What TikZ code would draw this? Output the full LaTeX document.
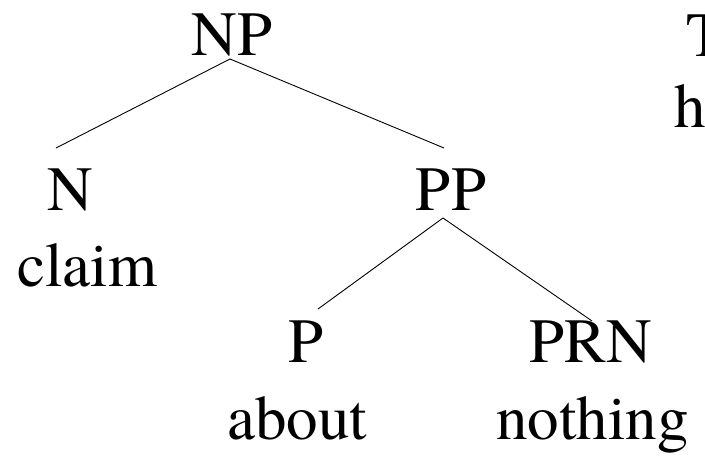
\documentclass[tikz,border=0pt]{standalone}
\usepackage{fontspec}
\newfontfamily\treefont{TeX Gyre Termes}
\begin{document}
\begin{tikzpicture}[x=1pt,y=-1pt,
  lbl/.style={anchor=base,inner sep=0pt,font=\treefont\fontsize{63}{76}\selectfont},
  edge/.style={line width=0.9pt,black}]
\useasboundingbox (0,0) rectangle (705,462);
\clip (0,0) rectangle (705,462);
\node[lbl] (NP) at (232,56) {NP};
\node[lbl] (N) at (70,211) {N};
\node[lbl] (claim) at (87.5,287) {claim};
\node[lbl] (PP) at (451,211) {PP};
\node[lbl] (P) at (306.5,363) {P};
\node[lbl] (PRN) at (591,363) {PRN};
\node[lbl] (about) at (297.5,440) {about};
\node[lbl] (nothing) at (592.5,440) {nothing};
\node[lbl,anchor=base west] (T) at (686,57) {T};
\node[lbl,anchor=base west] (h) at (674,128) {h};
\draw[edge] ([shift={(-2,3)}]NP.base) -- ([shift={(-14,-63)}]N.base);
\draw[edge] ([shift={(-2,3)}]NP.base) -- ([shift={(-7,-63)}]PP.base);
\draw[edge] ([shift={(-8,7)}]PP.base) -- ([shift={(11.5,-54)}]P.base);
\draw[edge] ([shift={(-8,7)}]PP.base) -- ([shift={(1,-42)}]PRN.base);
\end{tikzpicture}
\end{document}
